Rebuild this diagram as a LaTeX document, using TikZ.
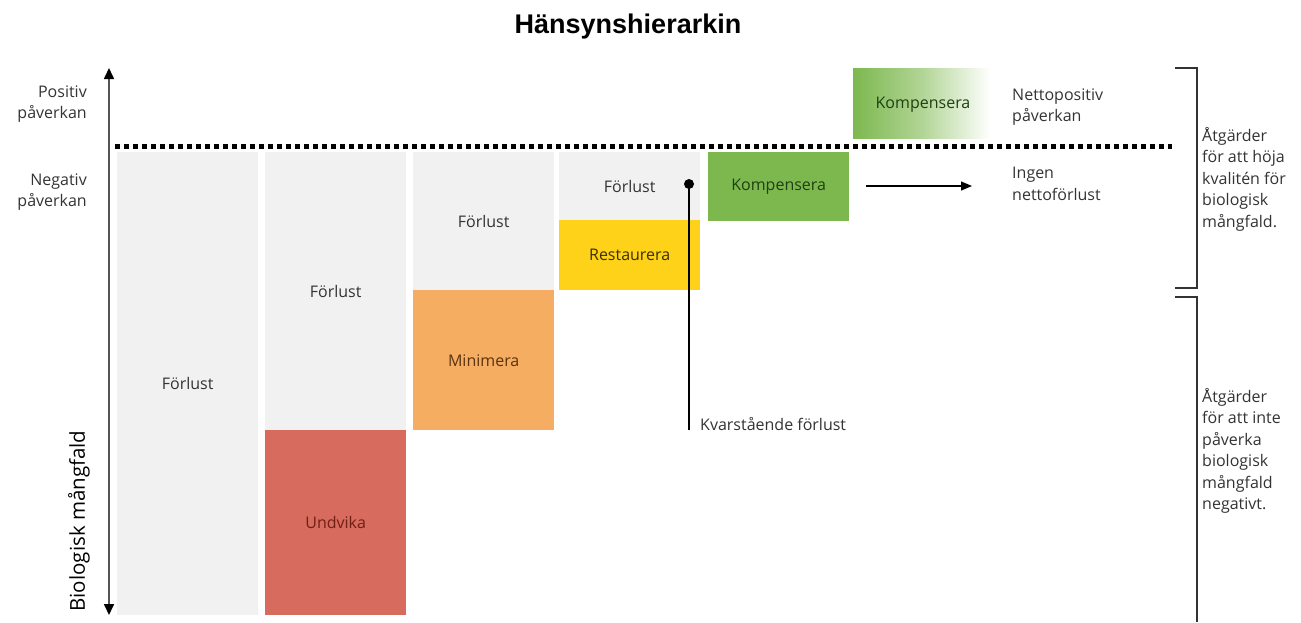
\documentclass[tikz,border=0pt]{standalone}
\usepackage{fontspec}
\setmainfont{Open Sans}
\newfontfamily\titlefont{Liberation Sans}
\usetikzlibrary{arrows.meta}
\definecolor{lgray}{HTML}{F1F1F1}
\definecolor{cred}{HTML}{D76B5D}
\definecolor{corange}{HTML}{F5AD62}
\definecolor{cyellow}{HTML}{FDD219}
\definecolor{cgreen}{HTML}{7DB84F}
\definecolor{tred}{HTML}{6E1F16}
\definecolor{torange}{HTML}{5A3310}
\definecolor{tyellow}{HTML}{3D3000}
\definecolor{tgreen}{HTML}{1E4012}
\definecolor{tgray}{HTML}{333333}
\definecolor{axisgray}{HTML}{555555}
\begin{document}
\begin{tikzpicture}[x=1pt,y=-1pt,
  every node/.style={font=\fontsize{16}{21.5}\selectfont, text=tgray, inner sep=0pt},
  blk/.style={anchor=north west, minimum width=141pt, draw=none},
  lbl/.style={align=left, anchor=west},
  rlbl/.style={align=right, anchor=east},
  bracketline/.style={draw=tgray, line width=1.3pt},
  axisline/.style={draw=axisgray, line width=1.6pt, {Triangle[length=11pt,width=10pt,color=black]}-{Triangle[length=11pt,width=10pt,color=black]}}
]
\useasboundingbox (0,0) rectangle (1301,622);
% title
\node[font=\titlefont\bfseries\fontsize{27}{30}\selectfont, text=black] (title) at (628,27) {Hänsynshierarkin};
% axis
\coordinate (axtop) at (109,68);
\coordinate (axbot) at (109,615);
\draw[axisline] (axbot) -- (axtop);
\node[rotate=90, font=\fontsize{20.5}{22}\selectfont, text=black] (bio) at (79,521) {Biologisk mångfald};
\node[rlbl] (pos) at (87,104) {Positiv\\påverkan};
\node[rlbl] (neg) at (87,192) {Negativ\\påverkan};
% column 1
\node[blk, fill=lgray, minimum height=463pt] (f1) at (117,152) {Förlust};
% column 2
\node[blk, fill=lgray, minimum height=278pt] (f2) at (265,152) {Förlust};
\node[blk, fill=cred, minimum height=185pt, text=tred] (undvika) at (265,430) {Undvika};
% column 3
\node[blk, fill=lgray, minimum height=138pt] (f3) at (413,152) {Förlust};
\node[blk, fill=corange, minimum height=140pt, text=torange] (minimera) at (413,290) {Minimera};
% column 4
\node[blk, fill=lgray, minimum height=68pt] (f4) at (559,152) {Förlust};
\node[blk, fill=cyellow, minimum height=70pt, text=tyellow] (restaurera) at (559,220) {Restaurera};
% kompensera
\node[blk, fill=cgreen, minimum height=69pt, text=tgreen] (komp) at (708,152) {Kompensera};
\node[anchor=north west, minimum width=137pt, minimum height=70pt, left color=cgreen, right color=white, middle color=cgreen!60] (kbox) at (853,68) {};
\node[text=tgreen] (komp2) at (923,105) {Kompensera};
% dotted line
\coordinate (dl) at (115,146);
\coordinate (dr) at (1172,146);
\draw[line width=5pt, dash pattern=on 5pt off 4pt, black] (dl) -- (dr);
% residual loss
\node[circle, fill=black, minimum size=10pt] (dot) at (689,184) {};
\coordinate (kvend) at (689,430);
\draw[line width=1.5pt, black] (dot.center) -- (kvend);
\node[lbl] (kvar) at (700,424) {Kvarstående förlust};
% arrow
\coordinate (arA) at (866,186);
\coordinate (arB) at (972,186);
\draw[line width=1.2pt, black, -{Triangle[length=11pt,width=9pt]}] (arA) -- (arB);
\node[lbl] (ingen) at (1012,184) {Ingen\\nettoförlust};
\node[lbl] (netto) at (1012,107) {Nettopositiv\\påverkan};
% brackets
\coordinate (b1a) at (1175,68);
\coordinate (b1b) at (1197,68);
\coordinate (b1c) at (1197,288);
\coordinate (b1d) at (1175,288);
\draw[bracketline] (b1a) -- (b1b) -- (b1c) -- (b1d);
\coordinate (b2a) at (1175,297);
\coordinate (b2b) at (1197,297);
\coordinate (b2c) at (1197,622);
\draw[bracketline] (b2a) -- (b2b) -- (b2c);
\node[lbl] (hoja) at (1202,179) {Åtgärder\\för att höja\\kvalitén för\\biologisk\\mångfald.};
\node[lbl] (inte) at (1202,451) {Åtgärder\\för att inte\\påverka\\biologisk\\mångfald\\negativt.};
\end{tikzpicture}
\end{document}
